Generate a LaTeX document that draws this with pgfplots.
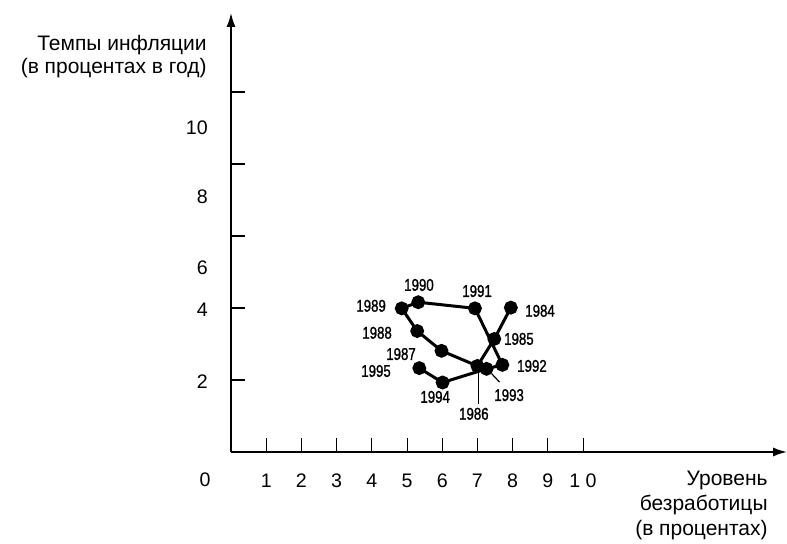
\documentclass[border=0pt]{standalone}
\usepackage{pgfplots}
\pgfplotsset{compat=1.18}
\usepackage{fontspec}
\setmainfont{Liberation Sans}
\newfontfamily\yearfont{Liberation Sans}[FakeStretch=0.78, FakeBold=1.2]
\usetikzlibrary{arrows.meta}
\begin{document}
\begin{tikzpicture}
\useasboundingbox (0,0) rectangle (393.5pt,272pt);
\begin{axis}[
  at={(115.5pt,46pt)}, anchor=south west,
  x=17.6pt, y=18pt,
  xmin=0, xmax=15.8, ymin=0, ymax=12.2,
  axis lines=left,
  axis line style={line width=1pt, -{Latex[length=7pt,width=4.5pt]}},
  clip=false,
  xtick={1,2,3,4,5,6,7,8,9,10},
  xticklabels={1,2,3,4,5,6,7,8,9,1 0},
  ytick={2,4,6,8,10}, yticklabels={},
  tick align=inside, major tick length=7pt,
  xtick style={black, line width=0.5pt},
  ytick style={black, line width=1pt},
  xticklabel style={anchor=north, inner sep=0pt, text height=7pt, text depth=0pt, yshift=-10.5pt, font=\fontsize{9.8}{11}\selectfont},
  /pgf/number format/assume math mode=true,
]
\addplot[black, line width=1.5pt, mark=*, mark size=2.7pt] coordinates {
(7.95,4.01) (7.48,3.14) (7.00,2.39) (5.98,2.81) (5.29,3.36) (4.85,3.99)
(5.32,4.16) (6.93,3.99) (7.71,2.42) (7.26,2.31) (6.01,1.93) (5.35,2.33)
};
% y tick labels (placed as in the original drawing)
\begin{scope}[every node/.style={anchor=east, inner sep=0pt, font=\fontsize{9.8}{11}\selectfont}]
\node at (axis cs:-0.65,1.94) {2};
\node at (axis cs:-0.65,3.94) {4};
\node at (axis cs:-0.65,5.11) {6};
\node at (axis cs:-0.65,7.08) {8};
\node at (axis cs:-0.65,9.00) {10};
\end{scope}
\node[inner sep=0pt, font=\fontsize{9.8}{11}\selectfont] at (axis cs:-0.74,-0.78) {0};
% year labels
\begin{scope}[every node/.style={inner sep=0pt, font=\yearfont\fontsize{8.5}{9}\selectfont}]
\node at (axis cs:5.34,4.64) {1990};
\node at (axis cs:6.99,4.47) {1991};
\node at (axis cs:3.98,4.06) {1989};
\node at (axis cs:8.78,3.92) {1984};
\node at (axis cs:4.15,3.31) {1988};
\node at (axis cs:8.18,3.14) {1985};
\node at (axis cs:4.83,2.72) {1987};
\node at (axis cs:8.55,2.39) {1992};
\node at (axis cs:4.12,2.25) {1995};
\node at (axis cs:5.80,1.53) {1994};
\node at (axis cs:7.90,1.58) {1993};
\node at (axis cs:6.90,1.06) {1986};
\end{scope}
\draw[line width=0.6pt] (axis cs:7.02,2.22) -- (axis cs:7.02,1.33);
\draw[line width=0.6pt] (axis cs:7.41,2.17) -- (axis cs:7.63,1.94);
\end{axis}
\node[anchor=east, align=right, inner sep=0pt, font=\fontsize{10.5}{11.5}\selectfont]
  at (103.5pt,243.75pt) {Темпы инфляции\\(в процентах в год)};
\node[anchor=east, align=right, inner sep=0pt, font=\fontsize{10.5}{12.5}\selectfont]
  at (384pt,19.5pt) {Уровень\\безработицы\\(в процентах)};
\end{tikzpicture}
\end{document}
